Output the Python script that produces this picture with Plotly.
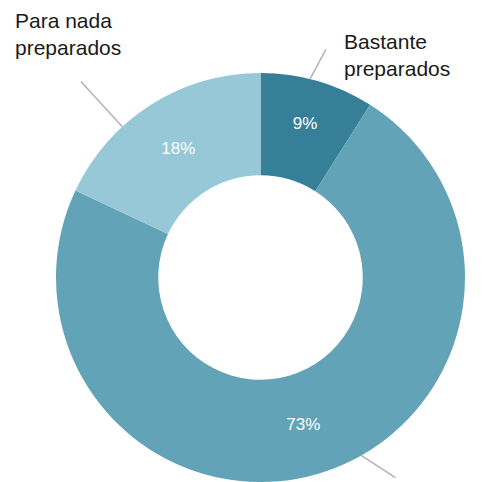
import math
import plotly.graph_objects as go

# ---- data ----
categories = ["Bastante preparados", "Algo preparados", "Para nada preparados"]
values = [9, 73, 18]
slice_colors = ["#367f99", "#62a3b7", "#97c8d7"]

# ---- layout helpers (leader line angles in degrees clockwise from 12 o'clock, radius factors) ----
leaders = [
    (14.0, 1.0, 16.0, 1.16),
    (150.5, 1.0, 146.0, 1.18),
    (317.5, 1.0, 317.5, 1.30),
]
outer_labels = [
    ("Bastante<br>preparados", 0.702, 1.1088),
    (None, 0, 0),
    ("Para nada<br>preparados", -0.103, 1.1585),
]

# the page body adds an 8px margin, so the figure is 8px smaller
W, H = 481, 474
ML, MR, MT, MB = 48, 24, 65, 0

fig = go.Figure(
    go.Pie(
        labels=categories,
        values=values,
        hole=0.5,
        sort=False,
        direction="clockwise",
        rotation=0,
        marker=dict(colors=slice_colors, line=dict(width=0)),
        textinfo="percent",
        textposition="inside",
        insidetextorientation="horizontal",
        textfont=dict(family="Liberation Sans, Arial, sans-serif", size=17, color="white"),
        showlegend=False,
        hoverinfo="label+percent",
    )
)


def polar(angle_deg, k):
    a = math.radians(angle_deg)
    return 0.5 + 0.5 * k * math.sin(a), 0.5 + 0.5 * k * math.cos(a)


shapes = []
for a0, k0, a1, k1 in leaders:
    x0, y0 = polar(a0, k0)
    x1, y1 = polar(a1, k1)
    shapes.append(dict(type="line", xref="paper", yref="paper", x0=x0, y0=y0, x1=x1, y1=y1,
                       line=dict(color="#b3b3b3", width=1.5)))

annotations = []
for text, x, y in outer_labels:
    if text is None:
        continue
    annotations.append(dict(text=text, xref="paper", yref="paper", x=x, y=y,
                            xanchor="left", yanchor="top", align="left", showarrow=False,
                            borderpad=0,
                            font=dict(family="Liberation Sans, Arial, sans-serif", size=21, color="#1a1a1a")))

fig.update_layout(
    width=W,
    height=H,
    margin=dict(l=ML, r=MR, t=MT, b=MB),
    paper_bgcolor="white",
    plot_bgcolor="white",
    shapes=shapes,
    annotations=annotations,
)

fig.write_html("out.html")
